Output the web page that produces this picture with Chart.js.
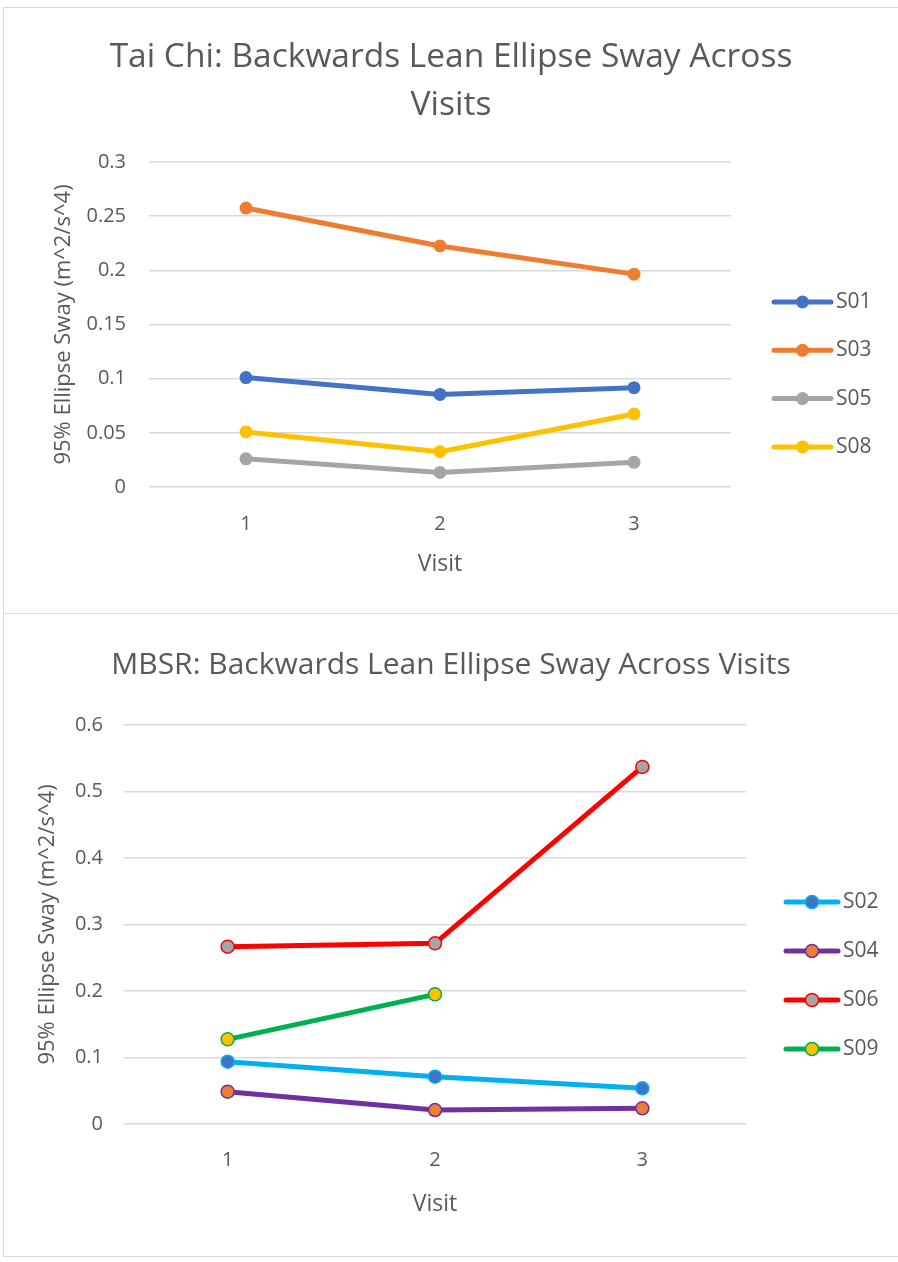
<!DOCTYPE html>
<html>
<head>
<meta charset="utf-8">
<script src="https://cdn.jsdelivr.net/npm/chart.js@4"></script>
<style>
  body { margin: 0; background: #fff; width: 898px; height: 1262px; overflow: hidden; position: relative; }
  .frame { position: absolute; left: 3px; width: 900px; border: 1px solid #d9d9d9; box-sizing: border-box; }
  canvas { position: absolute; left: 4px; }
</style>
</head>
<body>
<div class="frame" style="top:7px;height:607px"></div>
<div class="frame" style="top:613px;height:644px"></div>
<canvas id="taiChi" width="894" height="604" style="top:8px"></canvas>
<canvas id="mbsr" width="894" height="638" style="top:616px"></canvas>
<script>
  // Data
  var visits = ['1', '2', '3'];

  var s01 = [0.101, 0.0855, 0.0917];
  var s03 = [0.2575, 0.2225, 0.1965];
  var s05 = [0.026, 0.0135, 0.0228];
  var s08 = [0.0508, 0.0326, 0.0674];

  var s02 = [0.0937, 0.0711, 0.0536];
  var s04 = [0.0486, 0.021, 0.0236];
  var s06 = [0.2667, 0.2717, 0.537];
  var s09 = [0.1273, 0.195, null];

  var grey = '#595959';
  var fontName = 'Open Sans';

  // Excel style legend: line with a marker in the middle
  var excelLegend = {
    id: 'excelLegend',
    afterDraw: function (chart, args, o) {
      var ctx = chart.ctx;
      chart.data.datasets.forEach(function (ds, i) {
        var y = o.y + i * o.gap;
        ctx.save();
        ctx.strokeStyle = ds.borderColor;
        ctx.lineWidth = ds.borderWidth;
        ctx.lineCap = 'round';
        ctx.beginPath();
        ctx.moveTo(o.x, y);
        ctx.lineTo(o.x + o.len, y);
        ctx.stroke();
        ctx.beginPath();
        ctx.arc(o.x + o.len / 2, y, ds.pointRadius, 0, Math.PI * 2);
        ctx.fillStyle = ds.pointBackgroundColor;
        ctx.fill();
        if (ds.pointBorderWidth) {
          ctx.lineWidth = ds.pointBorderWidth;
          ctx.strokeStyle = ds.pointBorderColor;
          ctx.stroke();
        }
        ctx.fillStyle = grey;
        ctx.font = '21px "' + fontName + '"';
        ctx.textBaseline = 'middle';
        ctx.fillText(ds.label, o.x + o.len + o.textGap, y);
        ctx.restore();
      });
    }
  };

  function series(label, values, line, fill, border, bw) {
    return {
      label: label,
      data: values,
      borderColor: line,
      borderWidth: 5,
      pointRadius: 6.5,
      pointBackgroundColor: fill,
      pointBorderColor: border,
      pointBorderWidth: bw,
      tension: 0
    };
  }

  function makeChart(id, cfg) {
    var ctx = document.getElementById(id).getContext('2d');
    return new Chart(ctx, {
      type: 'line',
      data: { labels: visits, datasets: cfg.datasets },
      plugins: [excelLegend],
      options: {
        responsive: false,
        animation: false,
        layout: { padding: 0 },
        plugins: {
          legend: { display: false },
          tooltip: { enabled: false },
          title: {
            display: true,
            text: cfg.title,
            color: grey,
            font: { family: fontName, size: cfg.titleSize, weight: 'normal', lineHeight: 48 / cfg.titleSize },
            padding: { top: 25, bottom: cfg.titleBottom }
          },
          excelLegend: cfg.legend
        },
        scales: {
          x: {
            offset: true,
            grid: { display: false },
            border: { display: false },
            ticks: { color: grey, font: { family: fontName, size: 20 }, padding: cfg.xTickPad },
            title: {
              display: true, text: 'Visit', color: grey,
              font: { family: fontName, size: 23 }, padding: { top: 0, bottom: cfg.xTitlePad }
            },
            afterFit: function (s) { s.height = cfg.xHeight; }
          },
          y: {
            min: 0, max: cfg.max,
            grid: { color: '#d9d9d9', lineWidth: 1.5, drawTicks: false },
            border: { display: false },
            ticks: {
              stepSize: cfg.step, color: grey, font: { family: fontName, size: 20 }, padding: cfg.yTickPad,
              callback: function (v) { return String(+v.toFixed(2)); }
            },
            title: {
              display: true, text: '95% Ellipse Sway (m^2/s^4)', color: grey,
              font: { family: fontName, size: 22 }, padding: { top: cfg.yTitlePad, bottom: 0 }
            },
            afterFit: function (s) { s.width = cfg.yWidth; }
          },
          // empty axis that keeps room on the right for the legend
          legendRoom: {
            position: 'right',
            grid: { display: false },
            border: { display: false },
            ticks: { display: false },
            afterFit: function (s) { s.width = cfg.rightRoom; }
          }
        }
      }
    });
  }

  makeChart('taiChi', {
    title: ['Tai Chi: Backwards Lean Ellipse Sway Across', 'Visits'],
    titleSize: 33.5, titleBottom: 33,
    max: 0.3, step: 0.05,
    yWidth: 145, yTickPad: 23, yTitlePad: 47, rightRoom: 167,
    xHeight: 125, xTickPad: 17, xTitlePad: 34,
    legend: { x: 770, y: 294, gap: 48.3, len: 57, textGap: 5 },
    datasets: [
      series('S01', s01, '#4472C4', '#4472C4', '#4472C4', 0),
      series('S03', s03, '#ED7D31', '#ED7D31', '#ED7D31', 0),
      series('S05', s05, '#A5A5A5', '#A5A5A5', '#A5A5A5', 0),
      series('S08', s08, '#FFC000', '#FFC000', '#FFC000', 0)
    ]
  });

  makeChart('mbsr', {
    title: 'MBSR: Backwards Lean Ellipse Sway Across Visits',
    titleSize: 30, titleBottom: 36,
    max: 0.6, step: 0.1,
    yWidth: 120, yTickPad: 21, yTitlePad: 31, rightRoom: 152,
    xHeight: 130, xTickPad: 16, xTitlePad: 36,
    legend: { x: 782, y: 286, gap: 49, len: 52, textGap: 5 },
    datasets: [
      series('S02', s02, '#00B0F0', '#4472C4', '#00B0F0', 1.5),
      series('S04', s04, '#7030A0', '#ED7D31', '#7030A0', 1.5),
      series('S06', s06, '#FF0000', '#A5A5A5', '#FF0000', 1.5),
      series('S09', s09, '#00B050', '#FFC000', '#00B050', 1.5)
    ]
  });
</script>
</body>
</html>
